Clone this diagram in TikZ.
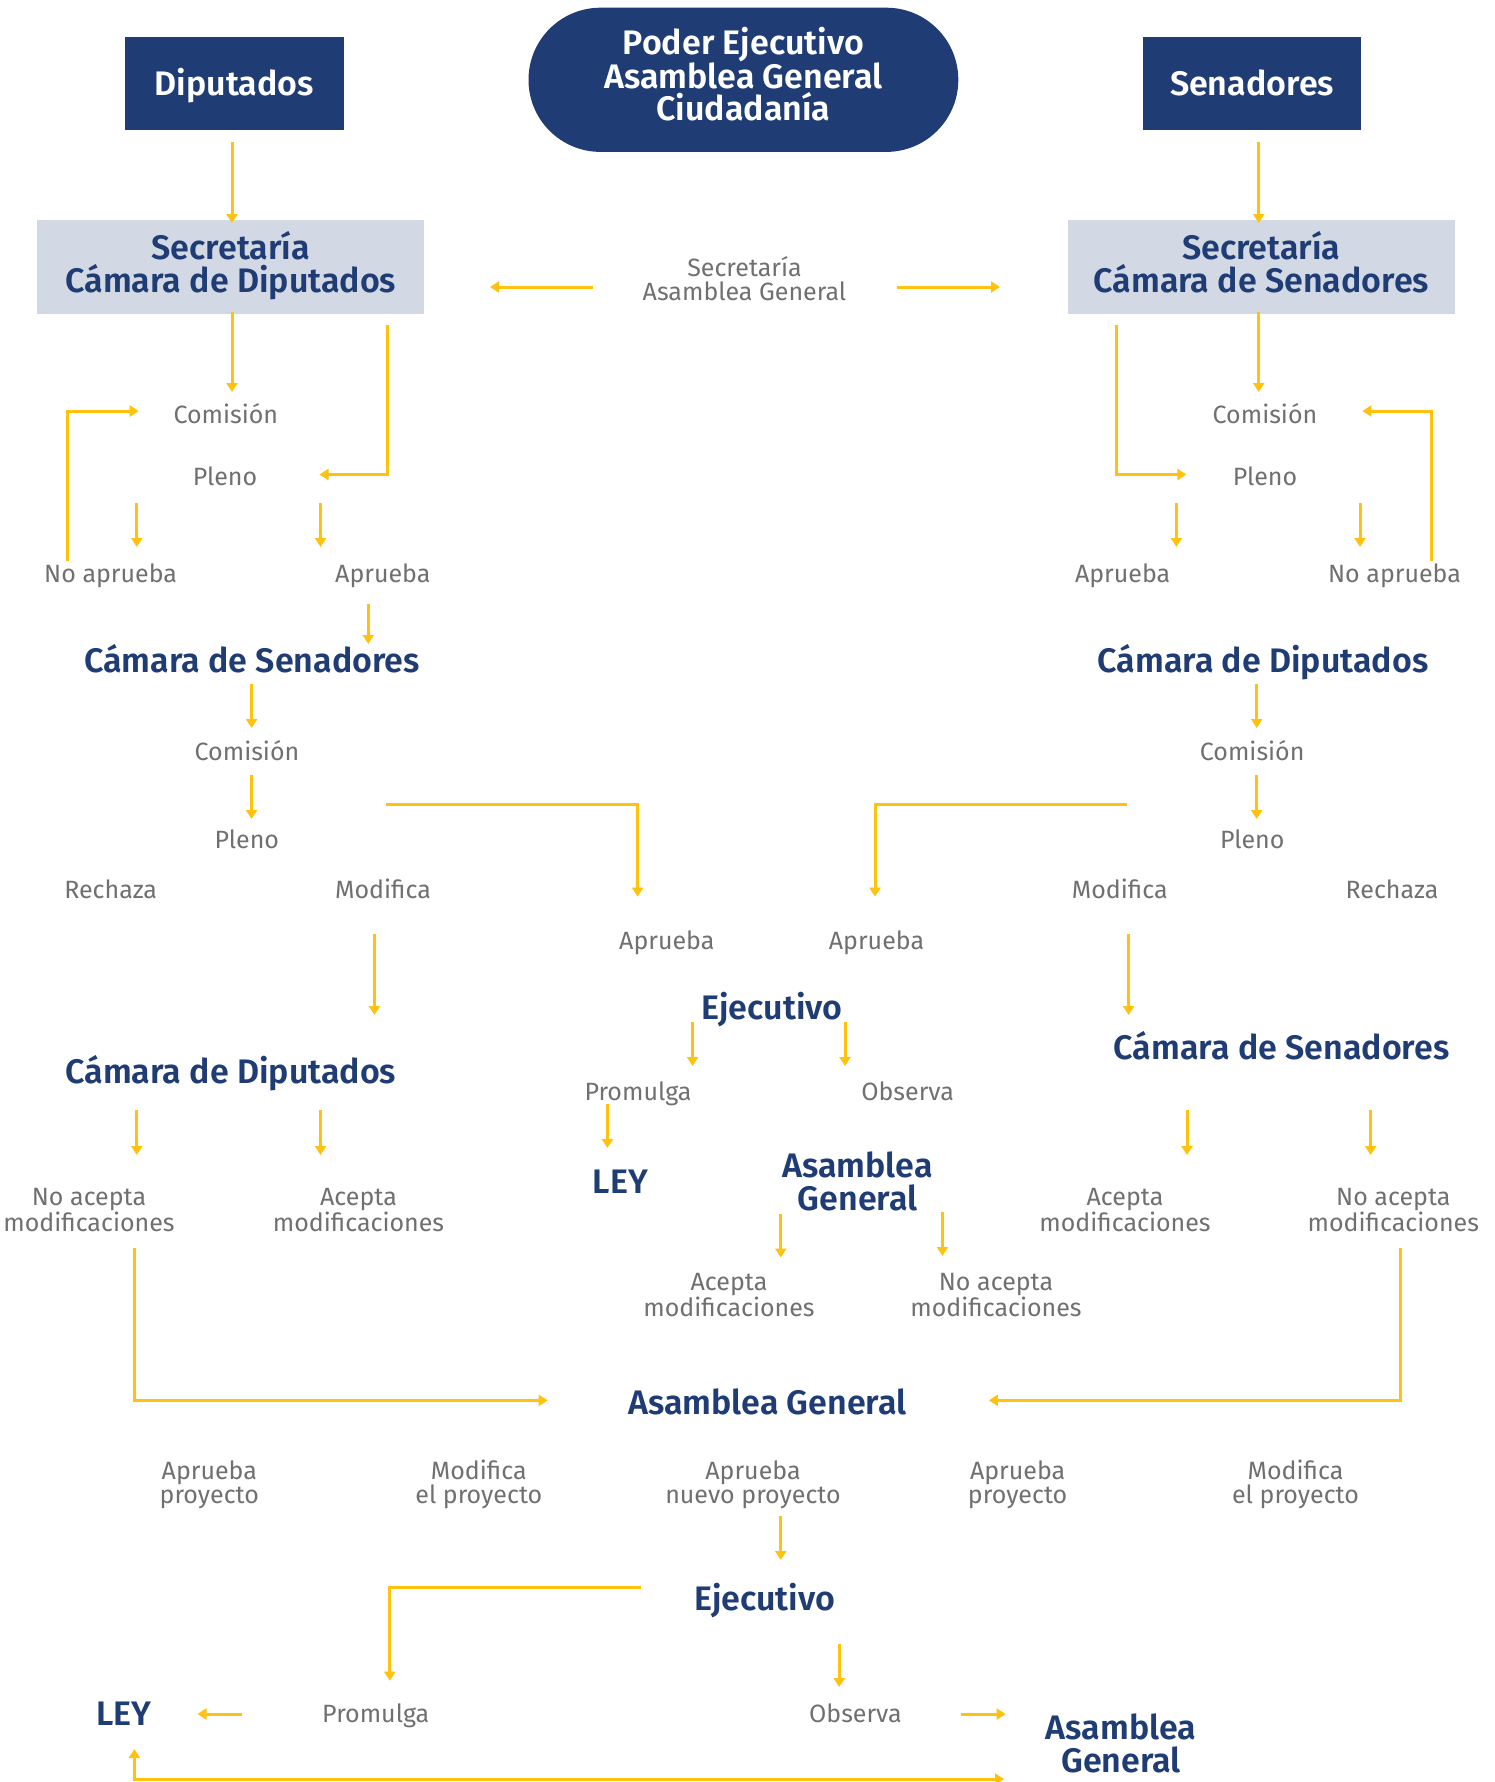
\documentclass[tikz,border=0pt]{standalone}
\usepackage{fontspec}
\setmainfont{Fira Sans}[BoldFont={Fira Sans SemiBold}]
\usetikzlibrary{arrows.meta}
\definecolor{navy}{HTML}{1F3D74}
\definecolor{pale}{HTML}{D3D9E4}
\definecolor{greyt}{HTML}{707070}
\definecolor{yel}{HTML}{FFC20E}
\begin{document}
\begin{tikzpicture}[x=1pt,y=-1pt,
  grey/.style={font=\fontsize{25}{24}\selectfont, text=greyt, align=center, inner sep=0pt, anchor=base},
  ttl/.style={font=\bfseries\fontsize{34}{32.6}\selectfont, text=navy, align=center, inner sep=0pt, anchor=base},
  wttl/.style={font=\bfseries\fontsize{34}{32}\selectfont, text=white, align=center, inner sep=0pt, anchor=base},
  darkbox/.style={fill=navy, inner sep=0pt},
  palebox/.style={fill=pale, inner sep=0pt},
  arr/.style={draw=yel, line width=3pt, -{Triangle[length=9pt,width=11pt]}},
  darr/.style={draw=yel, line width=3pt, {Triangle[length=9pt,width=11pt]}-{Triangle[length=9pt,width=11pt]}}
]
\useasboundingbox (0,0) rectangle (1494,1782);
\fill[white] (0,0) rectangle (1494,1782);

% ---- top boxes
\node[darkbox, minimum width=219pt, minimum height=93.4pt] (dipbox) at (234.2,83.8) {};
\node[wttl] (dip) at (234.2,95.5) {Diputados};
\node[darkbox, minimum width=218pt, minimum height=93.4pt] (senbox) at (1252,83.8) {};
\node[wttl] (sen) at (1252,95.5) {Senadores};
\node[darkbox, minimum width=429.8pt, minimum height=144.2pt, rounded corners=72pt] (pill) at (743.4,79.8) {};
\node[wttl] (pilltxt) at (743.4,120.5) {Poder Ejecutivo\\Asamblea General\\Ciudadanía};

\node[palebox, minimum width=387pt, minimum height=93.8pt] (secdbox) at (230.3,266.9) {};
\node[ttl] (secd) at (230.8,292.5) {Secretaría\\Cámara de Diputados};
\node[palebox, minimum width=387pt, minimum height=93.8pt] (secsbox) at (1261.3,266.9) {};
\node[ttl] (secs) at (1261.3,292.5) {Secretaría\\Cámara de Senadores};
\node[grey] (sag) at (744.5,300.5) {Secretaría\\Asamblea General};

% ---- grey labels, upper part
\node[grey] (com1) at (225.8,423.8) {Comisión};
\node[grey] (ple1) at (225,485.8) {Pleno};
\node[grey] (noap1) at (110.6,582.6) {No aprueba};
\node[grey] (ap1) at (382.8,582.6) {Aprueba};
\node[grey] (com2) at (1265,423.8) {Comisión};
\node[grey] (ple2) at (1265,485.8) {Pleno};
\node[grey] (ap2) at (1122.6,582.6) {Aprueba};
\node[grey] (noap2) at (1394.5,582.6) {No aprueba};

\node[ttl] (cs1) at (252,672.7) {Cámara de Senadores};
\node[ttl] (cd1) at (1263,672.7) {Cámara de Diputados};
\node[grey] (com3) at (247,760.9) {Comisión};
\node[grey] (ple3) at (246.8,848.9) {Pleno};
\node[grey] (rech1) at (110.7,898.6) {Rechaza};
\node[grey] (mod1) at (383,898.6) {Modifica};
\node[grey] (apr3) at (666.8,949.2) {Aprueba};
\node[grey] (com4) at (1252.2,760.9) {Comisión};
\node[grey] (ple4) at (1252.2,848.9) {Pleno};
\node[grey] (mod2) at (1119.7,898.6) {Modifica};
\node[grey] (rech2) at (1392,898.6) {Rechaza};
\node[grey] (apr4) at (876.5,949.2) {Aprueba};

\node[ttl] (ej1) at (772,1019.5) {Ejecutivo};
\node[grey] (prom1) at (638,1100.3) {Promulga};
\node[grey] (obs1) at (907.6,1100.3) {Observa};
\node[ttl] (ley1) at (620.4,1193) {LEY};
\node[ttl] (ag1) at (857.6,1210.5) {Asamblea\\General};
\node[ttl] (cd2) at (230.8,1083) {Cámara de Diputados};
\node[ttl] (cs2) at (1281.6,1059.3) {Cámara de Senadores};

\node[grey] (nacl) at (89,1231.5) {No acepta\\modificaciones};
\node[grey] (acl) at (358.5,1231.5) {Acepta\\modificaciones};
\node[grey] (acr) at (1125,1231.5) {Acepta\\modificaciones};
\node[grey] (nacr) at (1393.3,1231.5) {No acepta\\modificaciones};
\node[grey] (acm) at (729,1316.1) {Acepta\\modificaciones};
\node[grey] (nacm) at (996,1316.1) {No acepta\\modificaciones};

\node[ttl] (ag2) at (767.3,1414) {Asamblea General};
\node[grey] (apl) at (209.3,1503.6) {Aprueba\\proyecto};
\node[grey] (modl) at (478.8,1503.6) {Modifica\\el proyecto};
\node[grey] (apn) at (753,1503.6) {Aprueba\\nuevo proyecto};
\node[grey] (aprr) at (1017.6,1503.6) {Aprueba\\proyecto};
\node[grey] (modr) at (1295.5,1503.6) {Modifica\\el proyecto};

\node[ttl] (ej2) at (764.7,1610.5) {Ejecutivo};
\node[grey] (prom2) at (375.7,1722.6) {Promulga};
\node[grey] (obs2) at (855.4,1722.6) {Observa};
\node[ttl] (ley2) at (123.6,1725.5) {LEY};
\node[ttl] (ag3) at (1121,1772) {Asamblea\\General};

% ---- connectors
\draw[arr] (232,142.4) -- (232,223);
\draw[arr] (1258.7,142.4) -- (1258.7,223);
\draw[arr] (593,287) -- (490,287);
\draw[arr] (897,287) -- (1000,287);
\draw[arr] (232,312) -- (232,392);
\draw[arr] (1258.7,312) -- (1258.7,392);
\draw[arr] (387.4,324.5) |- (319.5,474.5);
\draw[arr] (1116,324.5) |- (1186.4,474.5);
\draw[arr] (67.4,560.6) |- (138.7,411);
\draw[arr] (1431.8,560.6) |- (1362.4,411);
\draw[arr] (136.8,503) -- (136.8,547);
\draw[arr] (320.5,503) -- (320.5,547);
\draw[arr] (1176.4,503) -- (1176.4,547);
\draw[arr] (1360,503) -- (1360,547);
\draw[arr] (368.3,604) -- (368.3,644);
\draw[arr] (251.6,684) -- (251.6,728);
\draw[arr] (251.6,775) -- (251.6,819);
\draw[arr] (1256.7,684) -- (1256.7,728);
\draw[arr] (1256.7,775) -- (1256.7,819);
\draw[arr] (385.5,804.3) -| (637.6,896.6);
\draw[arr] (1127.1,804.3) -| (875,896.6);
\draw[arr] (374.5,934) -- (374.5,1015);
\draw[arr] (1128.6,934) -- (1128.6,1015);
\draw[arr] (692.6,1022) -- (692.6,1066);
\draw[arr] (845,1022) -- (845,1066);
\draw[arr] (607.4,1104) -- (607.4,1148);
\draw[arr] (136.8,1110) -- (136.8,1155);
\draw[arr] (320.5,1110) -- (320.5,1155);
\draw[arr] (1187,1110) -- (1187,1155);
\draw[arr] (1370.6,1110) -- (1370.6,1155);
\draw[arr] (780.8,1214) -- (780.8,1257.5);
\draw[arr] (942.5,1212) -- (942.5,1256);
\draw[arr] (134,1248.3) |- (547.7,1400.4);
\draw[arr] (1400.7,1248.3) |- (988.9,1400.4);
\draw[arr] (780.8,1515.5) -- (780.8,1560);
\draw[arr] (641,1587.2) -| (389.8,1680.7);
\draw[arr] (839.2,1643.6) -- (839.2,1687);
\draw[arr] (241.5,1714) -- (197.5,1714);
\draw[arr] (961.2,1714) -- (1005.6,1714);
\draw[darr] (134.4,1749) |- (1004,1779);
\end{tikzpicture}
\end{document}
